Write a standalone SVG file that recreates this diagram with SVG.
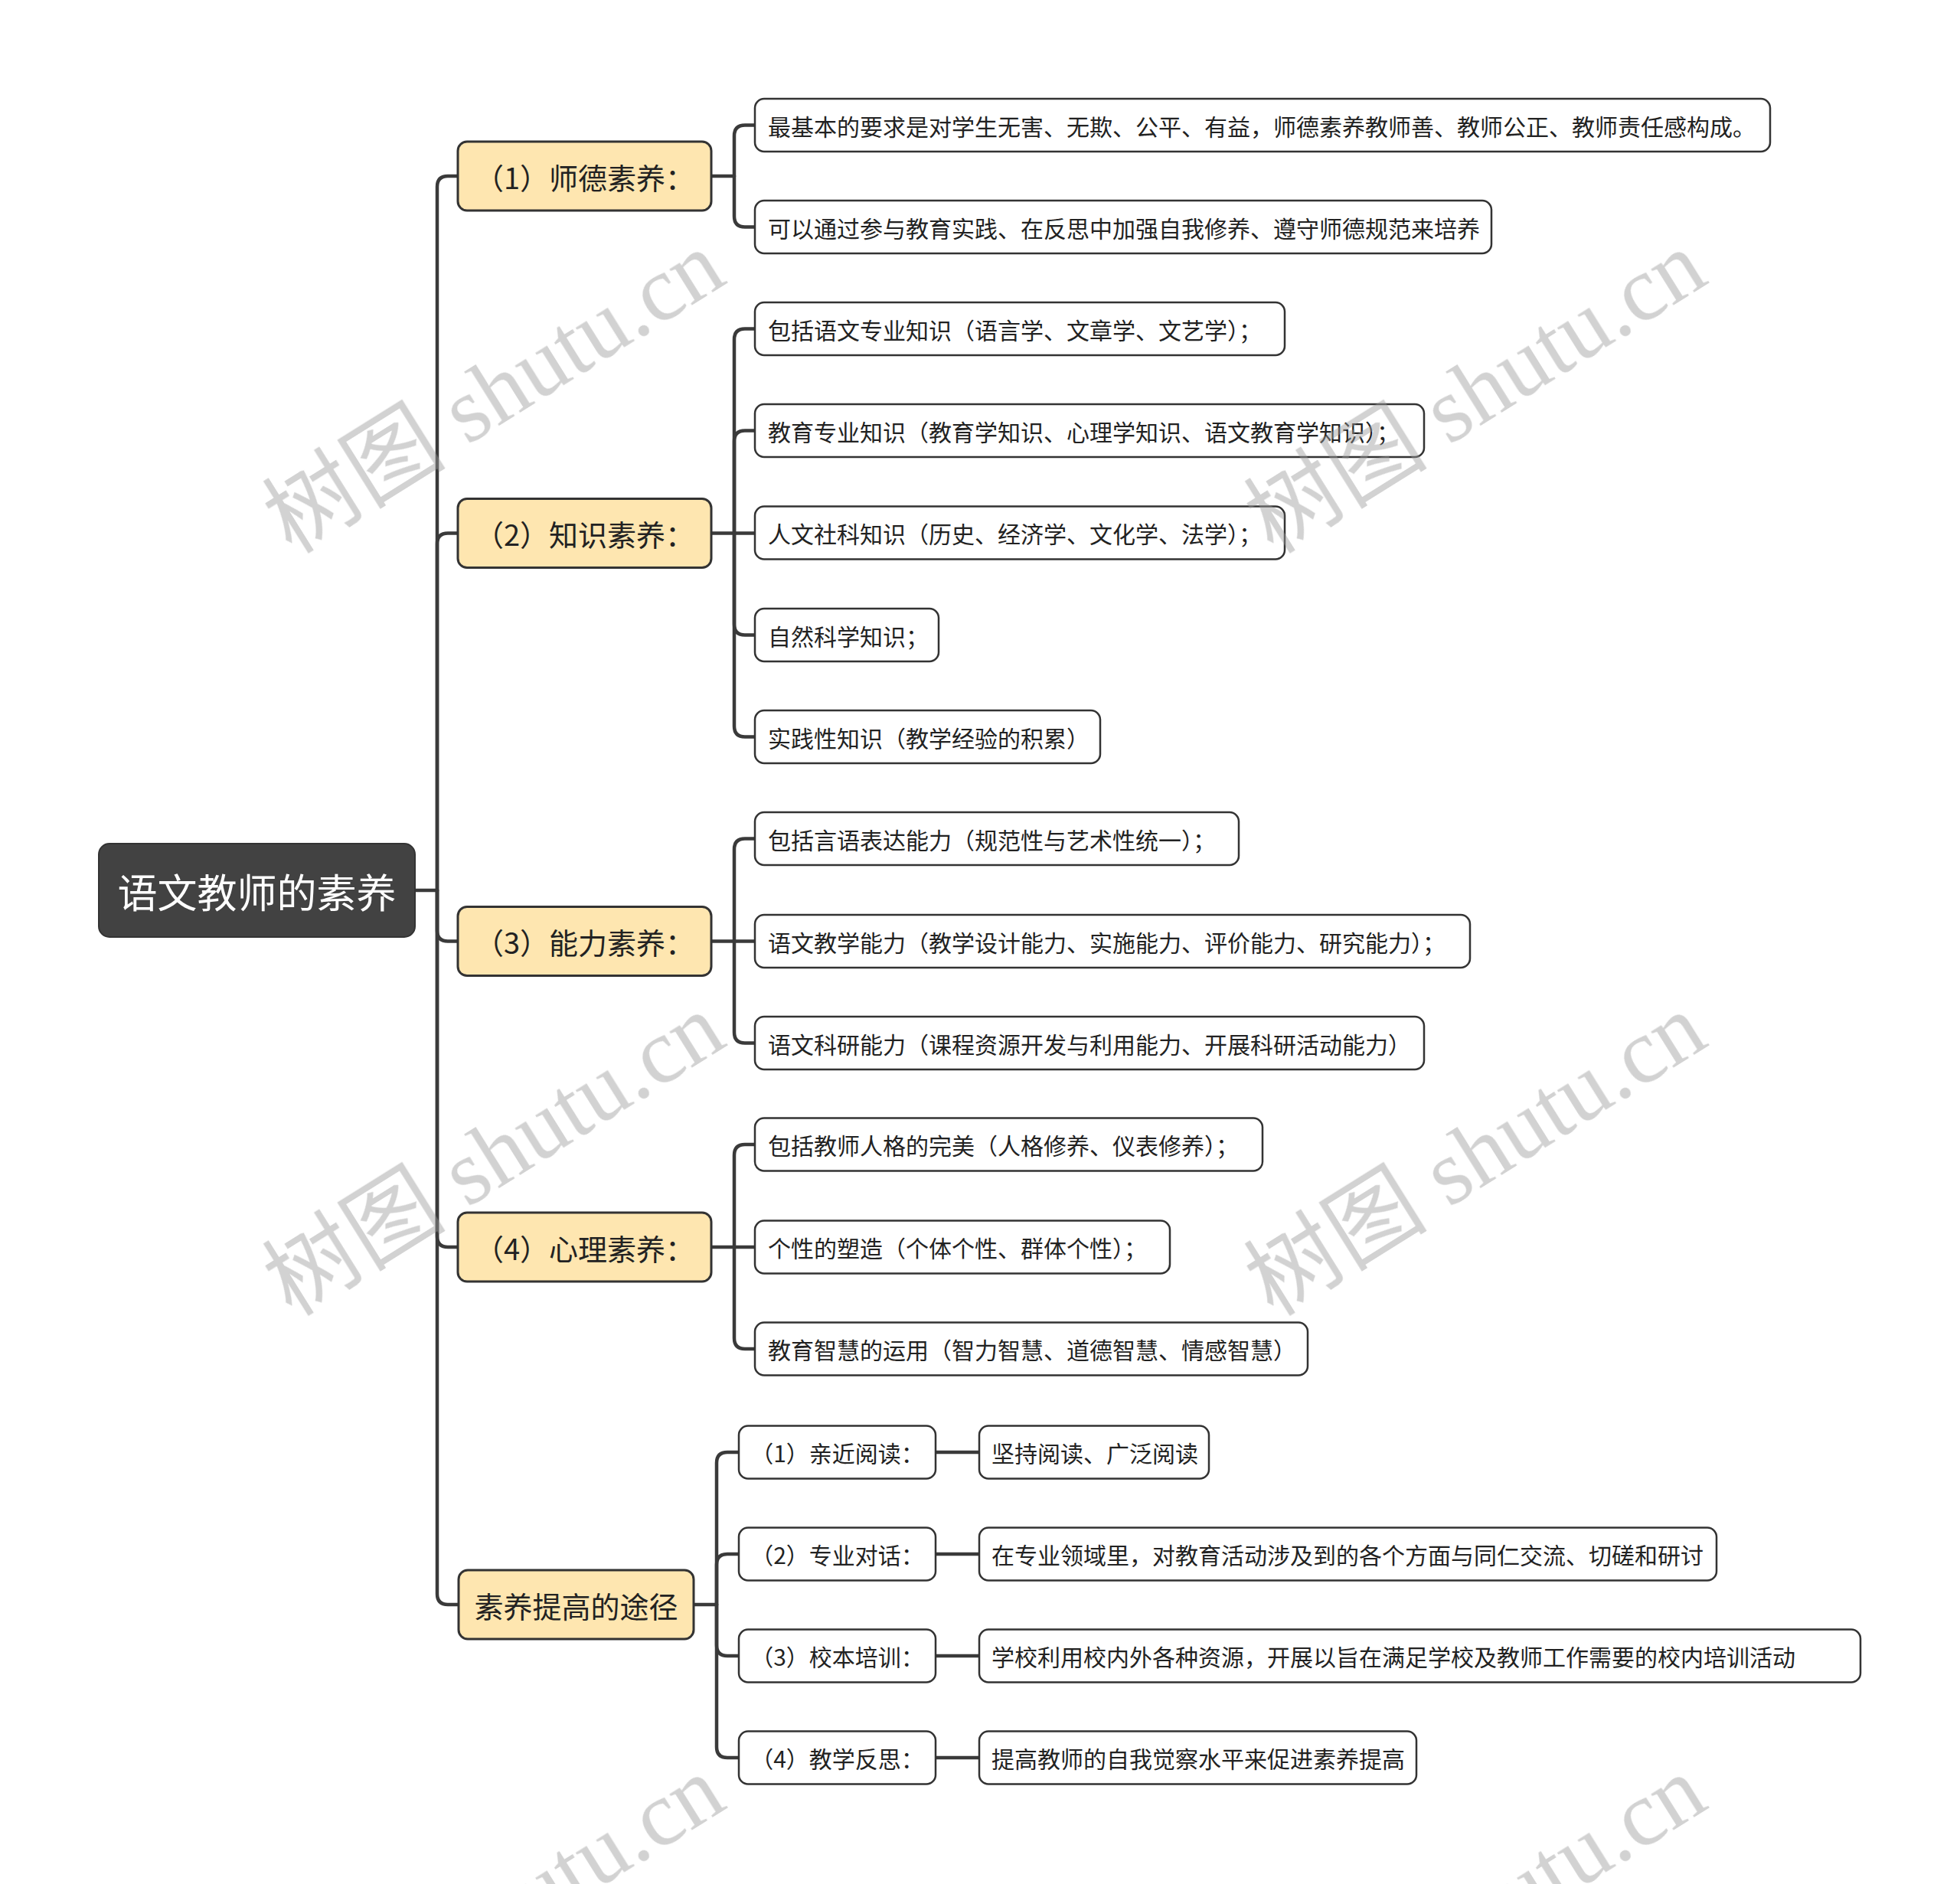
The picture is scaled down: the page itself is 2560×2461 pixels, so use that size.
<svg xmlns="http://www.w3.org/2000/svg" width="2560" height="2461" viewBox="0 0 2560 2461">
<style>
.bg{fill:#ffffff}
.ln{fill:none;stroke:#3a3a3a;stroke-width:4.5;stroke-linecap:round}
.root rect{fill:#424242;stroke:#333;stroke-width:2}
.root text{fill:#ffffff;font-size:52px;font-family:"Noto Sans CJK SC","Noto Sans",sans-serif}
.l1 rect{fill:#fee6b0;stroke:#333;stroke-width:3}
.l1 text{fill:#222;font-size:38px;font-family:"Noto Sans CJK SC","Noto Sans",sans-serif}
.l2 rect{fill:#ffffff;stroke:#333;stroke-width:2.5}
.l2 text{fill:#222;font-size:30px;font-family:"Noto Sans CJK SC","Noto Sans",sans-serif}
.wm{fill:#9a9a9a;opacity:0.45;font-size:120px;font-family:"Liberation Serif","Noto Sans CJK SC",serif}
</style>
<rect class="bg" x="0" y="0" width="2560" height="2461"/>

<g id="connectors">
  <path class="ln" d="M542,1163 H571"/>
  <path class="ln" d="M571,1163 V244 Q571,230 585,230 H598"/>
  <path class="ln" d="M571,1163 V710.5 Q571,696.5 585,696.5 H598"/>
  <path class="ln" d="M571,1163 V1215.5 Q571,1229.5 585,1229.5 H598"/>
  <path class="ln" d="M571,1163 V1615 Q571,1629 585,1629 H598"/>
  <path class="ln" d="M571,1163 V2082 Q571,2096 585,2096 H599"/>

  <path class="ln" d="M929,230 H959"/>
  <path class="ln" d="M959,230 V177.5 Q959,163.5 973,163.5 H986"/>
  <path class="ln" d="M959,230 V282.5 Q959,296.5 973,296.5 H986"/>

  <path class="ln" d="M929,696.5 H959"/>
  <path class="ln" d="M959,696.5 V443.5 Q959,429.5 973,429.5 H986"/>
  <path class="ln" d="M959,696.5 V576.5 Q959,562.5 973,562.5 H986"/>
  <path class="ln" d="M959,696.5 H986"/>
  <path class="ln" d="M959,696.5 V815.5 Q959,829.5 973,829.5 H986"/>
  <path class="ln" d="M959,696.5 V948.5 Q959,962.5 973,962.5 H986"/>

  <path class="ln" d="M929,1229.5 H959"/>
  <path class="ln" d="M959,1229.5 V1109.5 Q959,1095.5 973,1095.5 H986"/>
  <path class="ln" d="M959,1229.5 H986"/>
  <path class="ln" d="M959,1229.5 V1348.5 Q959,1362.5 973,1362.5 H986"/>

  <path class="ln" d="M929,1629 H959"/>
  <path class="ln" d="M959,1629 V1509 Q959,1495 973,1495 H986"/>
  <path class="ln" d="M959,1629 H986"/>
  <path class="ln" d="M959,1629 V1748 Q959,1762 973,1762 H986"/>

  <path class="ln" d="M906,2096 H936"/>
  <path class="ln" d="M936,2096 V1911 Q936,1897 950,1897 H965"/>
  <path class="ln" d="M936,2096 V2044 Q936,2030 950,2030 H965"/>
  <path class="ln" d="M936,2096 V2149 Q936,2163 950,2163 H965"/>
  <path class="ln" d="M936,2096 V2282 Q936,2296 950,2296 H965"/>

  <path class="ln" d="M1222,1897 H1279"/>
  <path class="ln" d="M1222,2030 H1279"/>
  <path class="ln" d="M1222,2163 H1279"/>
  <path class="ln" d="M1222,2296 H1279"/>
</g>

<g id="root" class="root">
  <rect x="129" y="1102" width="413" height="122" rx="14"/>
  <text x="335.5" y="1163" text-anchor="middle" dominant-baseline="central">语文教师的素养</text>
</g>

<g id="n1" class="l1">
  <rect x="598" y="185" width="331" height="90" rx="12"/>
  <text x="763.5" y="230" text-anchor="middle" dominant-baseline="central">（1）师德素养：</text>
</g>
<g id="n2" class="l1">
  <rect x="598" y="651.5" width="331" height="90" rx="12"/>
  <text x="763.5" y="696.5" text-anchor="middle" dominant-baseline="central">（2）知识素养：</text>
</g>
<g id="n3" class="l1">
  <rect x="598" y="1184.5" width="331" height="90" rx="12"/>
  <text x="763.5" y="1229.5" text-anchor="middle" dominant-baseline="central">（3）能力素养：</text>
</g>
<g id="n4" class="l1">
  <rect x="598" y="1584" width="331" height="90" rx="12"/>
  <text x="763.5" y="1629" text-anchor="middle" dominant-baseline="central">（4）心理素养：</text>
</g>
<g id="n5" class="l1">
  <rect x="599" y="2051" width="307" height="90" rx="12"/>
  <text x="752.5" y="2096" text-anchor="middle" dominant-baseline="central">素养提高的途径</text>
</g>

<g id="n1a" class="l2"><rect x="986" y="129" width="1326" height="69" rx="12"/><text x="1003" y="163.5" dominant-baseline="central">最基本的要求是对学生无害、无欺、公平、有益，师德素养教师善、教师公正、教师责任感构成。</text></g>
<g id="n1b" class="l2"><rect x="986" y="262" width="962" height="69" rx="12"/><text x="1003" y="296.5" dominant-baseline="central">可以通过参与教育实践、在反思中加强自我修养、遵守师德规范来培养</text></g>

<g id="n2a" class="l2"><rect x="986" y="395" width="692" height="69" rx="12"/><text x="1003" y="429.5" dominant-baseline="central">包括语文专业知识（语言学、文章学、文艺学）；</text></g>
<g id="n2b" class="l2"><rect x="986" y="528" width="874" height="69" rx="12"/><text x="1003" y="562.5" dominant-baseline="central">教育专业知识（教育学知识、心理学知识、语文教育学知识）；</text></g>
<g id="n2c" class="l2"><rect x="986" y="661.5" width="692" height="69" rx="12"/><text x="1003" y="696" dominant-baseline="central">人文社科知识（历史、经济学、文化学、法学）；</text></g>
<g id="n2d" class="l2"><rect x="986" y="795" width="240" height="69" rx="12"/><text x="1003" y="829.5" dominant-baseline="central">自然科学知识；</text></g>
<g id="n2e" class="l2"><rect x="986" y="928" width="451" height="69" rx="12"/><text x="1003" y="962.5" dominant-baseline="central">实践性知识（教学经验的积累）</text></g>

<g id="n3a" class="l2"><rect x="986" y="1061" width="632" height="69" rx="12"/><text x="1003" y="1095.5" dominant-baseline="central">包括言语表达能力（规范性与艺术性统一）；</text></g>
<g id="n3b" class="l2"><rect x="986" y="1195" width="934" height="69" rx="12"/><text x="1003" y="1229.5" dominant-baseline="central">语文教学能力（教学设计能力、实施能力、评价能力、研究能力）；</text></g>
<g id="n3c" class="l2"><rect x="986" y="1328" width="874" height="69" rx="12"/><text x="1003" y="1362.5" dominant-baseline="central">语文科研能力（课程资源开发与利用能力、开展科研活动能力）</text></g>

<g id="n4a" class="l2"><rect x="986" y="1460.5" width="663" height="69" rx="12"/><text x="1003" y="1495" dominant-baseline="central">包括教师人格的完美（人格修养、仪表修养）；</text></g>
<g id="n4b" class="l2"><rect x="986" y="1594.5" width="542" height="69" rx="12"/><text x="1003" y="1629" dominant-baseline="central">个性的塑造（个体个性、群体个性）；</text></g>
<g id="n4c" class="l2"><rect x="986" y="1727.5" width="722" height="69" rx="12"/><text x="1003" y="1762" dominant-baseline="central">教育智慧的运用（智力智慧、道德智慧、情感智慧）</text></g>

<g id="n5a" class="l2"><rect x="965" y="1862.5" width="257" height="69" rx="12"/><text x="1093.5" y="1897" text-anchor="middle" dominant-baseline="central">（1）亲近阅读：</text></g>
<g id="n5b" class="l2"><rect x="965" y="1995.5" width="257" height="69" rx="12"/><text x="1093.5" y="2030" text-anchor="middle" dominant-baseline="central">（2）专业对话：</text></g>
<g id="n5c" class="l2"><rect x="965" y="2128.5" width="257" height="69" rx="12"/><text x="1093.5" y="2163" text-anchor="middle" dominant-baseline="central">（3）校本培训：</text></g>
<g id="n5d" class="l2"><rect x="965" y="2261.5" width="257" height="69" rx="12"/><text x="1093.5" y="2296" text-anchor="middle" dominant-baseline="central">（4）教学反思：</text></g>

<g id="n5a1" class="l2"><rect x="1279" y="1862.5" width="300" height="69" rx="12"/><text x="1295" y="1897" dominant-baseline="central">坚持阅读、广泛阅读</text></g>
<g id="n5b1" class="l2"><rect x="1279" y="1995.5" width="963" height="69" rx="12"/><text x="1295" y="2030" dominant-baseline="central">在专业领域里，对教育活动涉及到的各个方面与同仁交流、切磋和研讨</text></g>
<g id="n5c1" class="l2"><rect x="1279" y="2128.5" width="1151" height="69" rx="12"/><text x="1295" y="2163" dominant-baseline="central">学校利用校内外各种资源，开展以旨在满足学校及教师工作需要的校内培训活动</text></g>
<g id="n5d1" class="l2"><rect x="1279" y="2261.5" width="571" height="69" rx="12"/><text x="1295" y="2296" dominant-baseline="central">提高教师的自我觉察水平来促进素养提高</text></g>

<g id="watermarks" class="wm">
  <text x="645" y="512" text-anchor="middle" dominant-baseline="central" transform="rotate(-32 645 512)">树图 shutu.cn</text>
  <text x="1927" y="512" text-anchor="middle" dominant-baseline="central" transform="rotate(-32 1927 512)">树图 shutu.cn</text>
  <text x="645" y="1508" text-anchor="middle" dominant-baseline="central" transform="rotate(-32 645 1508)">树图 shutu.cn</text>
  <text x="1927" y="1508" text-anchor="middle" dominant-baseline="central" transform="rotate(-32 1927 1508)">树图 shutu.cn</text>
  <text x="645" y="2504" text-anchor="middle" dominant-baseline="central" transform="rotate(-32 645 2504)">树图 shutu.cn</text>
  <text x="1927" y="2504" text-anchor="middle" dominant-baseline="central" transform="rotate(-32 1927 2504)">树图 shutu.cn</text>
</g>
</svg>
